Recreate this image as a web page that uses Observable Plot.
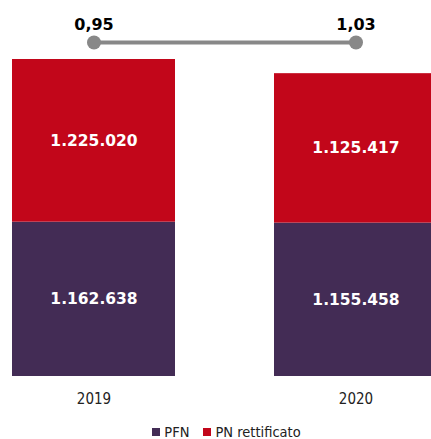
<!DOCTYPE html>
<html><head><meta charset="utf-8">
<script src="https://cdn.jsdelivr.net/npm/d3@7"></script>
<script src="https://cdn.jsdelivr.net/npm/@observablehq/plot@0.6"></script>
<style>
html,body{margin:0;padding:0;background:#fff;overflow:hidden;width:431px;height:439px}
#legend{display:flex;justify-content:center;align-items:center;font-family:"DejaVu Sans Condensed","DejaVu Sans",sans-serif;font-size:14.5px;color:#222;padding-left:22px;height:24px;margin-top:5px}
.item{display:flex;align-items:center;margin:0 7px}
.sw{width:8px;height:8px;margin-right:4px}
</style></head><body><div id="chart"></div><div id="legend"></div>
<script>
const years = ["2019", "2020"];
const series = ["PFN", "PN rettificato"];
const pfn = [1162638, 1155458];
const pnRettificato = [1225020, 1125417];
const ratio = [0.95, 1.03];
const colors = ["#432c55", "#c2061a"];

const it = d3.formatLocale({decimal: ",", thousands: ".", grouping: [3], currency: ["", " €"]});
const fmtInt = it.format(",d");
const fmtRatio = it.format(".2f");

const rows = [];
years.forEach((y, i) => {
  rows.push({year: y, series: series[0], value: pfn[i]});
  rows.push({year: y, series: series[1], value: pnRettificato[i]});
});
const ratioRows = years.map((y, i) => ({year: y, ratio: ratio[i]}));
const totals = years.map((y, i) => pfn[i] + pnRettificato[i]);
const yMax = d3.max(totals) * 334 / 317;

const chart = Plot.plot({
  width: 431,
  height: 415,
  marginTop: 42,
  marginBottom: 39,
  marginLeft: 0,
  marginRight: 0,
  style: {fontFamily: "'DejaVu Sans Condensed','DejaVu Sans',sans-serif", fontSize: "15px", color: "#222", background: "#fff"},
  x: {domain: years, range: [11, 438], paddingInner: 0.3764, paddingOuter: 0, label: null, tickSize: 0, tickPadding: 17, axis: "bottom"},
  y: {domain: [0, yMax], axis: null},
  color: {domain: series, range: colors},
  marks: [
    Plot.barY(rows, {x: "year", y: "value", fill: "series", order: series}),
    Plot.text(rows, Plot.stackY({x: "year", y: "value", z: "series", order: series, text: d => fmtInt(d.value), fill: "white", fontWeight: "bold", fontSize: 15.5, fontFamily: "'DejaVu Sans',sans-serif"})),
    Plot.line(ratioRows, {x: "year", y: () => yMax, stroke: "#888888", strokeWidth: 4}),
    Plot.dot(ratioRows, {x: "year", y: () => yMax, r: 7, fill: "#888888", stroke: "none"}),
    Plot.text(ratioRows, {x: "year", y: () => yMax, text: d => fmtRatio(d.ratio), lineAnchor: "bottom", dy: -13, fontWeight: "bold", fontSize: 16, fontFamily: "'DejaVu Sans',sans-serif", fill: "#000"})
  ]
});
document.getElementById("chart").appendChild(chart);

const lg = d3.select("#legend");
series.forEach((s, i) => {
  const item = lg.append("div").attr("class", "item");
  item.append("div").attr("class", "sw").style("background", colors[i]);
  item.append("span").text(s);
});
</script>
</body></html>
